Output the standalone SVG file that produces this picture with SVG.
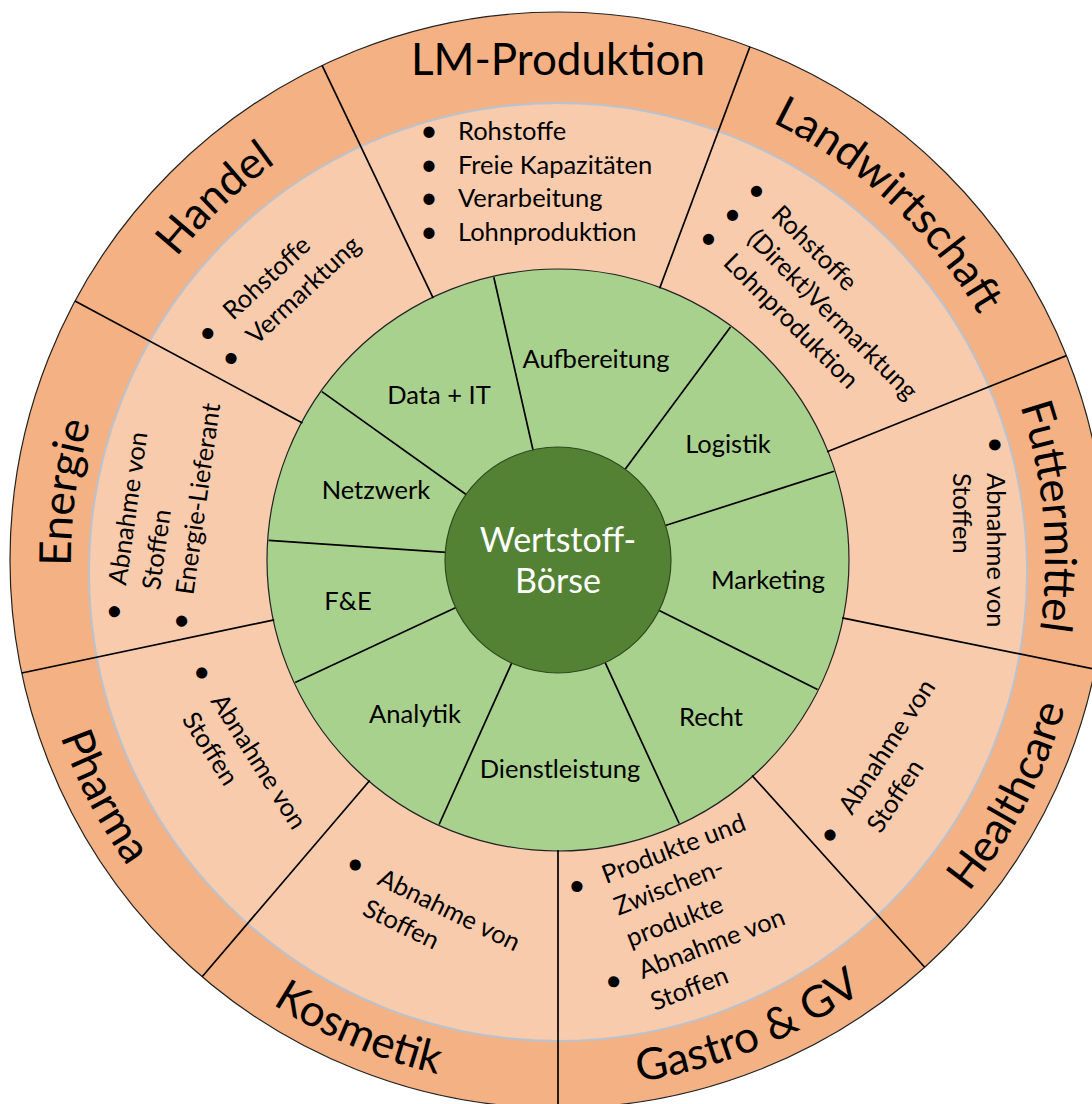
<svg xmlns="http://www.w3.org/2000/svg" xmlns:xlink="http://www.w3.org/1999/xlink" width="1092" height="1104" viewBox="0 0 1092 1104">
<style>
text{font-family:Lato,"Open Sans","Liberation Sans",sans-serif;fill:#000}
.lab{font-size:44px}
.li{font-size:25.5px}
.bul{font-size:30px;text-anchor:middle}
.gl{font-size:25.5px;text-anchor:middle}
.ctr{font-size:34px;text-anchor:middle;fill:#fff}
.div{stroke:#000;stroke-width:1.7;fill:none}
</style>
<defs>
<path id="arcUp" d="M558,1047 A487,487 0 1 1 558,73 A487,487 0 1 1 558,1047"/>
<path id="arcDn" d="M558,32 A528,528 0 1 0 558,1088 A528,528 0 1 0 558,32"/>
</defs>
<rect width="1092" height="1104" fill="#fff"/>
<g id="rings">
<circle cx="558" cy="560" r="548" fill="#F4B183" stroke="#222" stroke-width="1.2"/>
<ellipse cx="558" cy="572" rx="469" ry="469" fill="#F8CBAD" stroke="#b9c3cf" stroke-width="2"/>
<circle cx="558" cy="560" r="291" fill="#A9D18E" stroke="#222" stroke-width="1.2"/>
</g>
<g id="connectors">
<line class="div" x1="433.2" y1="298.2" x2="322.1" y2="65.4"/>
<line class="div" x1="659.6" y1="288.4" x2="749.9" y2="46.7"/>
<line class="div" x1="827.1" y1="451.8" x2="1066.4" y2="355.6"/>
<line class="div" x1="842.2" y1="617.8" x2="1095" y2="669.3"/>
<line class="div" x1="752" y1="775.5" x2="924.7" y2="967.2"/>
<line class="div" x1="558" y1="850" x2="558" y2="1108"/>
<line class="div" x1="369.7" y1="780.5" x2="202.1" y2="976.7"/>
<line class="div" x1="274.2" y1="619.8" x2="21.8" y2="673"/>
<line class="div" x1="302.4" y1="423" x2="75" y2="301"/>
<line class="div" x1="533.2" y1="450.8" x2="493.8" y2="277.2"/>
<line class="div" x1="624.6" y1="470" x2="730.5" y2="326.9"/>
<line class="div" x1="664.6" y1="525.8" x2="834.1" y2="471.3"/>
<line class="div" x1="658.2" y1="610" x2="817.5" y2="689.4"/>
<line class="div" x1="604.8" y1="661.8" x2="679.2" y2="823.5"/>
<line class="div" x1="512.1" y1="662.2" x2="439.1" y2="824.5"/>
<line class="div" x1="456.5" y1="607.3" x2="295.2" y2="682.6"/>
<line class="div" x1="446.3" y1="552.4" x2="268.7" y2="540.3"/>
<line class="div" x1="466.8" y1="495" x2="321.9" y2="391.6"/>
</g>
<g id="center">
<circle cx="558" cy="560" r="113" fill="#548235" stroke="#2f4a1e" stroke-width="1.2"/>
<text class="ctr" x="558" y="552">Wertstoff-</text>
<text class="ctr" x="558" y="593">Börse</text>
</g>
<g id="services">
<text class="gl" x="439" y="404">Data + IT</text>
<text class="gl" x="596" y="368">Aufbereitung</text>
<text class="gl" x="728" y="453">Logistik</text>
<text class="gl" x="376" y="499">Netzwerk</text>
<text class="gl" x="768" y="589">Marketing</text>
<text class="gl" x="348" y="610">F&amp;E</text>
<text class="gl" x="415" y="723">Analytik</text>
<text class="gl" x="711" y="726">Recht</text>
<text class="gl" x="560" y="778">Dienstleistung</text>
</g>
<g id="lm-produktion">
<text class="lab" x="558" y="75" text-anchor="middle">LM-Produktion</text>
<text class="bul" x="429" y="141">•</text><text class="li" x="458" y="140">Rohstoffe</text>
<text class="bul" x="429" y="174.5">•</text><text class="li" x="458" y="173.5">Freie Kapazitäten</text>
<text class="bul" x="429" y="208">•</text><text class="li" x="458" y="207">Verarbeitung</text>
<text class="bul" x="429" y="241.5">•</text><text class="li" x="458" y="240.5">Lohnproduktion</text>
</g>
<g id="landwirtschaft">
<text class="lab" text-anchor="middle"><textPath xlink:href="#arcUp" href="#arcUp" startOffset="1894.6">Landwirtschaft</textPath></text>
<g transform="translate(770,216) rotate(45)">
<text class="bul" x="-27" y="1">•</text><text class="li" x="0" y="0">Rohstoffe</text>
<text class="bul" x="-27" y="35">•</text><text class="li" x="0" y="34">(Direkt)Vermarktung</text>
<text class="bul" x="-27" y="69">•</text><text class="li" x="0" y="68">Lohnproduktion</text>
</g>
</g>
<g id="futtermittel">
<text class="lab" text-anchor="middle"><textPath xlink:href="#arcUp" href="#arcUp" startOffset="2251.6">Futtermittel</textPath></text>
<g transform="translate(987,473) rotate(90)">
<text class="bul" x="-28" y="1">•</text><text class="li" x="0" y="0">Abnahme von</text>
<text class="li" x="0" y="34">Stoffen</text>
</g>
</g>
<g id="healthcare">
<text class="lab" text-anchor="middle"><textPath xlink:href="#arcDn" href="#arcDn" startOffset="2233.8">Healthcare</textPath></text>
<g transform="translate(852,816) rotate(-57)">
<text class="bul" x="-28" y="1">•</text><text class="li" x="0" y="0">Abnahme von</text>
<text class="li" x="0" y="34">Stoffen</text>
</g>
</g>
<g id="gastro">
<text class="lab" text-anchor="middle"><textPath xlink:href="#arcDn" href="#arcDn" startOffset="1861.5">Gastro &amp; GV</textPath></text>
<g transform="translate(606,884) rotate(-21)">
<text class="bul" x="-28" y="1">•</text><text class="li" x="0" y="0">Produkte und</text>
<text class="li" x="0" y="34">Zwischen-</text>
<text class="li" x="0" y="68">produkte</text>
<text class="bul" x="-28" y="103">•</text><text class="li" x="0" y="102">Abnahme von</text>
<text class="li" x="0" y="136">Stoffen</text>
</g>
</g>
<g id="kosmetik">
<text class="lab" text-anchor="middle"><textPath xlink:href="#arcDn" href="#arcDn" startOffset="1446.8">Kosmetik</textPath></text>
<g transform="translate(376,884) rotate(26)">
<text class="bul" x="-27" y="1">•</text><text class="li" x="0" y="0">Abnahme von</text>
<text class="li" x="0" y="34">Stoffen</text>
</g>
</g>
<g id="pharma">
<text class="lab" text-anchor="middle"><textPath xlink:href="#arcDn" href="#arcDn" startOffset="1082.8">Pharma</textPath></text>
<g transform="translate(210,701) rotate(57.5)">
<text class="bul" x="-28" y="1">•</text><text class="li" x="0" y="0">Abnahme von</text>
<text class="li" x="0" y="34">Stoffen</text>
</g>
</g>
<g id="energie">
<text class="lab" text-anchor="middle"><textPath xlink:href="#arcUp" href="#arcUp" startOffset="831.3">Energie</textPath></text>
<g transform="translate(126,586) rotate(-82)">
<text class="bul" x="-27" y="1">•</text><text class="li" x="0" y="0">Abnahme von</text>
<text class="li" x="0" y="34">Stoffen</text>
<text class="bul" x="-27" y="69">•</text><text class="li" x="0" y="68">Energie-Lieferant</text>
</g>
</g>
<g id="handel">
<text class="lab" text-anchor="middle"><textPath xlink:href="#arcUp" href="#arcUp" startOffset="1160.2">Handel</textPath></text>
<g transform="translate(233,321) rotate(-43)">
<text class="bul" x="-27" y="1">•</text><text class="li" x="0" y="0">Rohstoffe</text>
<text class="bul" x="-27" y="35">•</text><text class="li" x="0" y="34">Vermarktung</text>
</g>
</g>
</svg>
